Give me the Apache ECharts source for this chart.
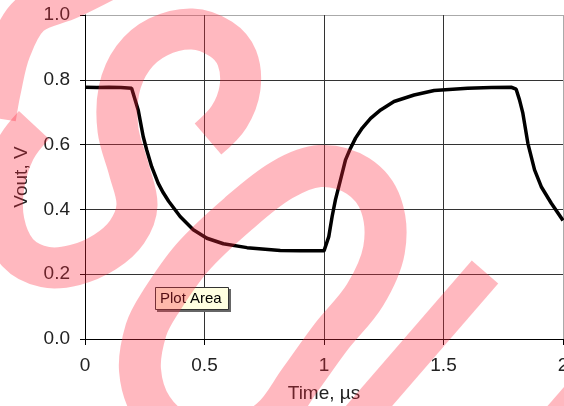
<!DOCTYPE html>
<html><head><meta charset="utf-8">
<script src="https://cdn.jsdelivr.net/npm/echarts@6/dist/echarts.min.js"></script>
<style>html,body{margin:0;padding:0;background:#fff}#c{width:564px;height:406px}</style>
</head><body><div id="c"></div>
<script>
// ---- data ----
const timeUs = [0, 0.05, 0.1, 0.15, 0.195, 0.2225, 0.2435, 0.258, 0.279, 0.306, 0.327, 0.35, 0.398, 0.453, 0.51, 0.579, 0.678, 0.817, 0.9, 1.0,
  1.02, 1.034, 1.048, 1.069, 1.09, 1.111, 1.132, 1.16, 1.195, 1.237, 1.293, 1.377, 1.461, 1.601, 1.7, 1.783,
  1.804, 1.818, 1.832, 1.853, 1.881, 1.909, 1.951, 2.0];
const voutV = [0.777, 0.776, 0.777, 0.776, 0.774, 0.707, 0.625, 0.584, 0.532, 0.481, 0.452, 0.425, 0.378, 0.337, 0.311, 0.294, 0.282, 0.273, 0.272, 0.272,
  0.316, 0.378, 0.43, 0.491, 0.553, 0.589, 0.62, 0.651, 0.681, 0.707, 0.733, 0.753, 0.767, 0.774, 0.776, 0.777,
  0.771, 0.738, 0.697, 0.604, 0.522, 0.47, 0.419, 0.366];
const xTickLabels = ['0', '0.5', '1', '1.5', '2'];
const yTickLabels = ['0.0', '0.2', '0.4', '0.6', '0.8', '1.0'];
const xTitle = 'Time, \u00b5s';
const yTitle = 'Vout, V';
const tipText = 'Plot Area';

// ---- chart ----
const FONT = '"Liberation Sans", Arial, sans-serif';
const TXT = '#222';
const chart = echarts.init(document.getElementById('c'), null, {renderer: 'canvas'});
const pts = timeUs.map((t, i) => [t, voutV[i]]);
const wm = 'rgba(255,40,60,0.33)';

chart.setOption({
  animation: false,
  backgroundColor: '#fff',
  grid: {left: 85, right: 1, top: 15, bottom: 67, containLabel: false, outerBoundsMode: 'none'},
  xAxis: {
    type: 'value', min: 0, max: 2, interval: 0.5,
    name: xTitle, nameLocation: 'middle', nameGap: 45,
    nameTextStyle: {fontFamily: FONT, fontSize: 19, color: TXT},
    axisLine: {show: true, onZero: false, lineStyle: {color: '#000', width: 1}},
    axisTick: {show: true, inside: false, length: 6, lineStyle: {color: '#000'}},
    axisLabel: {margin: 17, fontFamily: FONT, fontSize: 19, color: TXT,
      formatter: v => xTickLabels[Math.round(v / 0.5)]},
    splitLine: {show: true, lineStyle: {color: ['#000', '#333', '#333', '#333', '#aaa'], width: 1}}
  },
  yAxis: {
    type: 'value', min: 0, max: 1, interval: 0.2,
    name: yTitle, nameLocation: 'middle', nameGap: 54, nameRotate: 90,
    nameTextStyle: {fontFamily: FONT, fontSize: 19, color: TXT},
    axisLine: {show: true, onZero: false, lineStyle: {color: '#000', width: 1}},
    axisTick: {show: true, inside: false, length: 5, lineStyle: {color: '#000'}},
    axisLabel: {margin: 15, fontFamily: FONT, fontSize: 19, color: TXT,
      formatter: v => yTickLabels[Math.round(v / 0.2)]},
    splitLine: {show: true, lineStyle: {color: ['#000', '#333', '#333', '#333', '#333', '#aaa'], width: 1}}
  },
  series: [{
    type: 'line', data: pts, showSymbol: false, smooth: false,
    lineStyle: {color: '#000', width: 3.5}, z: 3
  }],
  graphic: [
    {type: 'rect', z: 50, shape: {x: 157, y: 289, width: 74, height: 23}, style: {fill: '#666'}},
    {type: 'rect', z: 51, shape: {x: 155.5, y: 287.5, width: 73, height: 22}, style: {fill: '#ffffe1', stroke: '#333', lineWidth: 1}},
    {type: 'text', z: 52, style: {x: 160, y: 299, text: tipText, fill: '#000', font: '15px ' + FONT, verticalAlign: 'middle'}},
    // watermark strokes
    {type: 'polyline', z: 100, shape: {smooth: 0.35, points: [[208,139],[229,117],[240,88],[237,58],[221,39],[192,29],[158,37],[133,58],[119,90],[118,130],[129,170],[137,205],[127,232],[105,252],[75,265],[45,267],[18,253],[4,222],[4,185],[15,150],[34,125]]},
      style: {stroke: wm, lineWidth: 41, fill: null, lineCap: 'butt', lineJoin: 'round'}},
    {type: 'polyline', z: 100, shape: {smooth: 0.35, points: [[110,-22],[70,-2],[30,15],[10,50],[0,90],[-5,118]]},
      style: {stroke: wm, lineWidth: 42, fill: null, lineCap: 'butt', lineJoin: 'round'}},
    {type: 'polygon', z: 100, shape: {smooth: 0.35, points: [[160,303],[192,258],[238,214],[282,180],[320,166],[358,176],[381,205],[384,250],[365,295],[331,337],[300,380],[270,420],[225,440],[180,432],[152,408],[140,370],[146,330]]},
      style: {stroke: wm, lineWidth: 42, fill: 'none', lineJoin: 'round'}},
    {type: 'line', z: 100, shape: {x1: 485, y1: 272, x2: 330, y2: 451}, style: {stroke: wm, lineWidth: 35, lineCap: 'butt'}},
    {type: 'line', z: 100, shape: {x1: 621, y1: 348, x2: 536, y2: 446}, style: {stroke: wm, lineWidth: 35, lineCap: 'butt'}}
  ]
});
</script></body></html>
